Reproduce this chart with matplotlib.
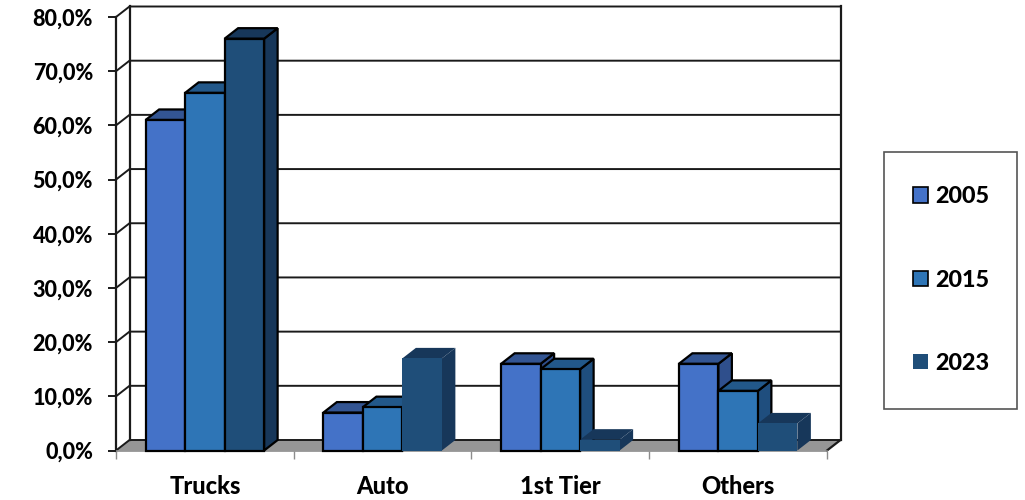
import matplotlib
matplotlib.use('Agg')
import matplotlib.pyplot as plt
from matplotlib.patches import Patch, Polygon, Rectangle

plt.rcParams['font.family'] = ['Lato', 'DejaVu Sans']
plt.rcParams['font.weight'] = 900

# ------------- data ------------- #
categories = ['Trucks', 'Auto', '1st Tier', 'Others']
years = ['2005', '2015', '2023']
v_2005 = [61.0, 7.0, 16.0, 16.0]
v_2015 = [66.0, 8.0, 15.0, 11.0]
v_2023 = [76.0, 17.0, 2.0, 5.0]
y_ticks = [0, 10, 20, 30, 40, 50, 60, 70, 80]
y_labels = ['0,0%', '10,0%', '20,0%', '30,0%', '40,0%', '50,0%', '60,0%', '70,0%', '80,0%']

# ------------- style ------------- #
front = ['#4472C8', '#2E75B6', '#1F4E79']
top = ['#335593', '#22588A', '#17375A']
side = ['#2F4F8C', '#1F4E7E', '#17375A']
W, H = 1025, 500
line_c = '#1a1a1a'

fig = plt.figure(figsize=(W / 100, H / 100), dpi=100)
ax = fig.add_axes([116 / W, (H - 450.5) / H, 711 / W, 433.5 / H])
ax.set_xlim(0, 4)
ax.set_ylim(0, 80)
for s in ax.spines.values():
    s.set_visible(False)
ax.patch.set_visible(False)

# depth of the fake 3d box, in data units
dx = 13.5 / (711 / 4)
dy = 10.5 / (433.5 / 80)


def poly(pts, fc, ec='none', lw=0, z=2):
    ax.add_patch(Polygon(pts, closed=True, facecolor=fc, edgecolor=ec, linewidth=lw,
                         joinstyle='miter', clip_on=False, zorder=z))


# floor
poly([(0, 0), (4, 0), (4 + dx, dy), (dx, dy)], '#969696', z=1)
ax.plot([0, 4], [0, 0], color='#8c8c8c', lw=1.2, clip_on=False, zorder=1.5)

# walls + grid
for t in y_ticks:
    ax.plot([0, dx, 4 + dx], [t, t + dy, t + dy], color=line_c, lw=1.4, clip_on=False, zorder=1.2)
ax.plot([0, 0], [0, 80], color=line_c, lw=1.6, clip_on=False, zorder=1.3)
ax.plot([dx, dx], [dy, 80 + dy], color=line_c, lw=1.6, clip_on=False, zorder=1.3)
ax.plot([4 + dx, 4 + dx], [dy, 80 + dy], color=line_c, lw=1.6, clip_on=False, zorder=1.3)
ax.plot([4, 4 + dx], [0, dy], color=line_c, lw=1.6, clip_on=False, zorder=1.3)

# bars, left to right so later ones cover the side of the one before
series = [v_2005, v_2015, v_2023]
bw = 2 / 9
z = 2
for c in range(len(categories)):
    x0 = c + 1 / 6
    for k in range(3):
        v = series[k][c]
        l, r = x0 + k * bw, x0 + (k + 1) * bw
        # only the big 2023 bar has an outline in the original
        edged = k < 2 or c == 0
        ec = 'black' if edged else 'none'
        lw = 1.6 if edged else 0
        poly([(r, 0), (r + dx, dy), (r + dx, v + dy), (r, v)], side[k], ec, lw, z)
        poly([(l, v), (r, v), (r + dx, v + dy), (l + dx, v + dy)], top[k], ec, lw, z)
        poly([(l, 0), (r, 0), (r, v), (l, v)], front[k], ec, lw, z)
        z += 1

# axes ticks and labels
ax.set_yticks(y_ticks)
ax.set_yticklabels(y_labels, fontsize=15.5, fontweight=900)
ax.tick_params(axis='y', length=6, width=1.4, color=line_c, pad=10.5)
ax.set_xticks(range(5))
ax.set_xticklabels([])
ax.tick_params(axis='x', length=6, width=1, color='#8c8c8c')
ax.set_xticks([i + 0.5 for i in range(4)], minor=True)
ax.set_xticklabels(categories, minor=True, fontsize=17, fontweight=900)
ax.tick_params(axis='x', which='minor', length=0, pad=17.5)

# legend
fig.add_artist(Rectangle((884 / W, (H - 409) / H), 133 / W, 257 / H, transform=fig.transFigure,
                         facecolor='white', edgecolor='#555555', linewidth=1.2))
handles = [Patch(facecolor=front[0], edgecolor='black', linewidth=1.2),
           Patch(facecolor=front[1], edgecolor='black', linewidth=1.2),
           Patch(facecolor=front[2], edgecolor='none')]
fig.legend(handles, years, loc='center', bbox_to_anchor=(951 / W, (H - 280) / H), frameon=False,
           prop=dict(size=16.8, weight=900), handlelength=0.65, handleheight=0.65,
           handletextpad=0.3, labelspacing=2.67)

plt.savefig('out.png', dpi=100)
